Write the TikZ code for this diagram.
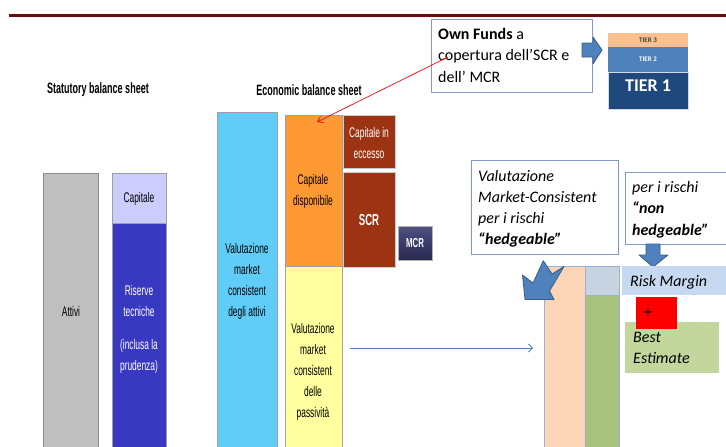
\documentclass[tikz,border=0pt]{standalone}
\usepackage{fontspec}
\setmainfont{Carlito}
\newfontfamily\narrowfont[FakeStretch=0.6]{Liberation Sans}
\usetikzlibrary{arrows.meta}
\definecolor{maroonline}{RGB}{107,12,16}
\definecolor{attivigray}{RGB}{191,191,191}
\definecolor{lavender}{RGB}{204,204,255}
\definecolor{riserve}{RGB}{56,56,192}
\definecolor{cyanbar}{RGB}{95,205,248}
\definecolor{orangebar}{RGB}{255,153,51}
\definecolor{yellowbar}{RGB}{255,255,160}
\definecolor{darkred}{RGB}{156,51,18}
\definecolor{mcrtop}{RGB}{80,80,130}
\definecolor{mcrbot}{RGB}{40,40,80}
\definecolor{boxline}{RGB}{126,155,200}
\definecolor{tierthree}{RGB}{250,192,144}
\definecolor{tiertwo}{RGB}{79,129,189}
\definecolor{tierone}{RGB}{31,73,125}
\definecolor{peach}{RGB}{251,213,181}
\definecolor{grayblue}{RGB}{200,211,226}
\definecolor{greencol}{RGB}{168,193,124}
\definecolor{riskblue}{RGB}{198,217,241}
\definecolor{bestgreen}{RGB}{195,214,155}
\definecolor{arrowfill}{RGB}{79,129,189}
\definecolor{arrowline}{RGB}{56,93,138}
\definecolor{colline}{RGB}{149,179,215}
\tikzset{
  bar/.style={inner sep=0pt, outer sep=0pt, anchor=north west, draw=gray!75, line width=0.6pt, fill=#1},
  bartext/.style={inner sep=0pt, align=center, text=black, font=\narrowfont\fontsize{14}{21}\selectfont},
  titletext/.style={inner sep=0pt, font=\narrowfont\bfseries\fontsize{15}{17}\selectfont},
  callout/.style={inner sep=0pt, outer sep=0pt, anchor=north west, draw=boxline, line width=1pt, fill=white},
  calltext/.style={inner sep=0pt, anchor=north west, align=left, font=\fontsize{16}{21.5}\selectfont},
  blockarrow/.style={fill=arrowfill, draw=arrowline, line width=0.8pt, line join=round},
  colbox/.style={inner sep=0pt, outer sep=0pt, anchor=north west, draw=colline, line width=0.8pt, fill=#1},
}
\begin{document}
\begin{tikzpicture}[x=1pt,y=-1pt]
\useasboundingbox (0,0) rectangle (726,447);
\clip (0,0) rectangle (726,447);
\fill[white] (0,0) rectangle (726,447);

% top rule
\draw[maroonline, line width=2.2pt] (9,15.5) -- (726,15.5);

% titles
\node[titletext] (stat) at (98,90) {Statutory balance sheet};
\node[titletext] (econ) at (309,90) {Economic balance sheet};

% statutory balance sheet
\node[bar=attivigray, draw=gray!90, minimum width=55pt, minimum height=285pt] (attivi) at (43,173) {};
\node[bartext] (attivit) at (71,311) {Attivi};
\node[bar=lavender, minimum width=54pt, minimum height=50pt] (capitale) at (112,173) {};
\node[bartext] (capitalet) at (139,199) {Capitale};
\node[bar=riserve, minimum width=54pt, minimum height=235pt] (riserve) at (112,223) {};
\node[bartext, text=white] (riservet) at (139,329) {Riserve\\tecniche\\[12pt](inclusa la\\prudenza)};

% economic balance sheet
\node[bar=cyanbar, minimum width=60pt, minimum height=345pt] (cyan) at (217,112) {};
\node[bartext] (cyant) at (247,281) {Valutazione\\market\\consistent\\degli attivi};
\node[bar=orangebar, minimum width=57pt, minimum height=151pt] (orange) at (285,115) {};
\node[bartext] (oranget) at (313,191.5) {Capitale\\disponibile};
\node[bar=yellowbar, minimum width=57pt, minimum height=195pt] (yellow) at (285,266) {};
\node[bartext] (yellowt) at (313,371.5) {Valutazione\\market\\consistent\\delle\\passività};
\node[bar=darkred, draw=gray!40, minimum width=52pt, minimum height=53pt] (eccesso) at (343,115) {};
\node[bartext, text=white] (eccessot) at (369,143) {Capitale in\\eccesso};
\node[bar=darkred, draw=gray!40, minimum width=52pt, minimum height=95pt] (scr) at (343,172) {};
\node[inner sep=0pt, text=white, font=\narrowfont\bfseries\fontsize{16}{18}\selectfont] (scrt) at (369,220) {SCR};
\node[inner sep=0pt, outer sep=0pt, anchor=north west, draw=gray!60, line width=0.6pt, top color=mcrtop, bottom color=mcrbot, minimum width=34pt, minimum height=34pt] (mcr) at (398,226) {};
\node[inner sep=0pt, text=white, font=\narrowfont\bfseries\fontsize{13}{15}\selectfont] (mcrt) at (415,243) {MCR};

% own funds callout
\node[callout, minimum width=161pt, minimum height=73pt] (ownbox) at (431,19) {};
\node[calltext] (ownt) at (438,24) {\strut\textbf{Own Funds} a\\copertura dell’SCR e\\dell’ MCR};
\filldraw[blockarrow] (582,43) -- (593,43) -- (593,37) -- (602,50) -- (593,64) -- (593,57) -- (582,57) -- cycle;

% tiers
\node[inner sep=0pt, outer sep=0pt, anchor=north west, fill=tierthree, minimum width=80pt, minimum height=14pt] (tier3) at (608,33) {};
\node[inner sep=0pt, text=black!75, font=\bfseries\fontsize{7}{8}\selectfont] (tier3t) at (648,40) {TIER 3};
\node[inner sep=0pt, outer sep=0pt, anchor=north west, fill=tiertwo, minimum width=80pt, minimum height=25pt] (tier2) at (608,47) {};
\node[inner sep=0pt, text=white, font=\bfseries\fontsize{7}{8}\selectfont] (tier2t) at (648,59) {TIER 2};
\node[inner sep=0pt, outer sep=0pt, anchor=north west, fill=tierone, draw=white!80!tierone, line width=0.5pt, minimum width=80pt, minimum height=37pt] (tier1) at (608,72) {};
\node[inner sep=0pt, text=white, font=\bfseries\fontsize{18}{20}\selectfont] (tier1t) at (648,86) {TIER 1};

% red connector
\coordinate (ofsrc) at (448,57);
\coordinate (oftgt) at (317,122);
\draw[red, line width=0.7pt, -{Straight Barb[length=5pt,width=7pt]}] (ofsrc) -- (oftgt);

% horizontal connector
\coordinate (hstart) at (350,348);
\coordinate (hend) at (533,348);
\draw[arrowfill, line width=0.8pt, -{Straight Barb[length=4pt,width=8pt]}] (hstart) -- (hend);

% right side: columns
\node[colbox=peach, minimum width=41pt, minimum height=195pt] (peachcol) at (544,266) {};
\node[colbox=grayblue, minimum width=34pt, minimum height=29pt] (graybox) at (585,266) {};
\node[colbox=greencol, minimum width=34pt, minimum height=165pt] (greencolumn) at (585,295) {};

% callouts on the right
\node[callout, minimum width=147pt, minimum height=94pt] (hedgebox) at (471,160) {};
\node[calltext, font=\itshape\fontsize{16}{21}\selectfont] (hedget) at (478,166.3) {\strut Valutazione\\Market-Consistent\\per i rischi\\\textbf{“hedgeable”}};
\node[callout, minimum width=110pt, minimum height=72pt] (nonhedgebox) at (625,172) {};
\node[calltext, font=\itshape\fontsize{16}{21.5}\selectfont] (nonhedget) at (632,177) {\strut per i rischi\\\textbf{“non}\\\textbf{hedgeable”}};

% block arrows
\filldraw[blockarrow] (646,244) -- (660,244) -- (660,255) -- (668,255) -- (653,267) -- (639,255) -- (646,255) -- cycle;
\filldraw[blockarrow] (525,299.5) -- (522.5,275) -- (533,283) -- (543.3,260.7) -- (552,274) -- (564,266.5) -- (549.5,291) -- (554,299.5) -- cycle;

% risk margin, best estimate
\node[inner sep=0pt, outer sep=0pt, anchor=north west, fill=riskblue, minimum width=110pt, minimum height=29pt] (risk) at (622,266) {};
\node[inner sep=0pt, anchor=base west, font=\itshape\fontsize{16}{19}\selectfont] (riskt) at (630,286) {Risk Margin};
\node[inner sep=0pt, outer sep=0pt, anchor=north west, fill=bestgreen, minimum width=94pt, minimum height=51pt] (best) at (625,322) {};
\node[calltext, font=\itshape\fontsize{16}{20.5}\selectfont] (bestt) at (633,328.3) {\strut Best\\Estimate};
\node[inner sep=0pt, outer sep=0pt, anchor=north west, fill=red, minimum width=41pt, minimum height=32pt] (plusbox) at (636,297) {};
\node[inner sep=0pt, font=\fontsize{16}{18}\selectfont] (plust) at (648,313) {+};
\end{tikzpicture}
\end{document}
